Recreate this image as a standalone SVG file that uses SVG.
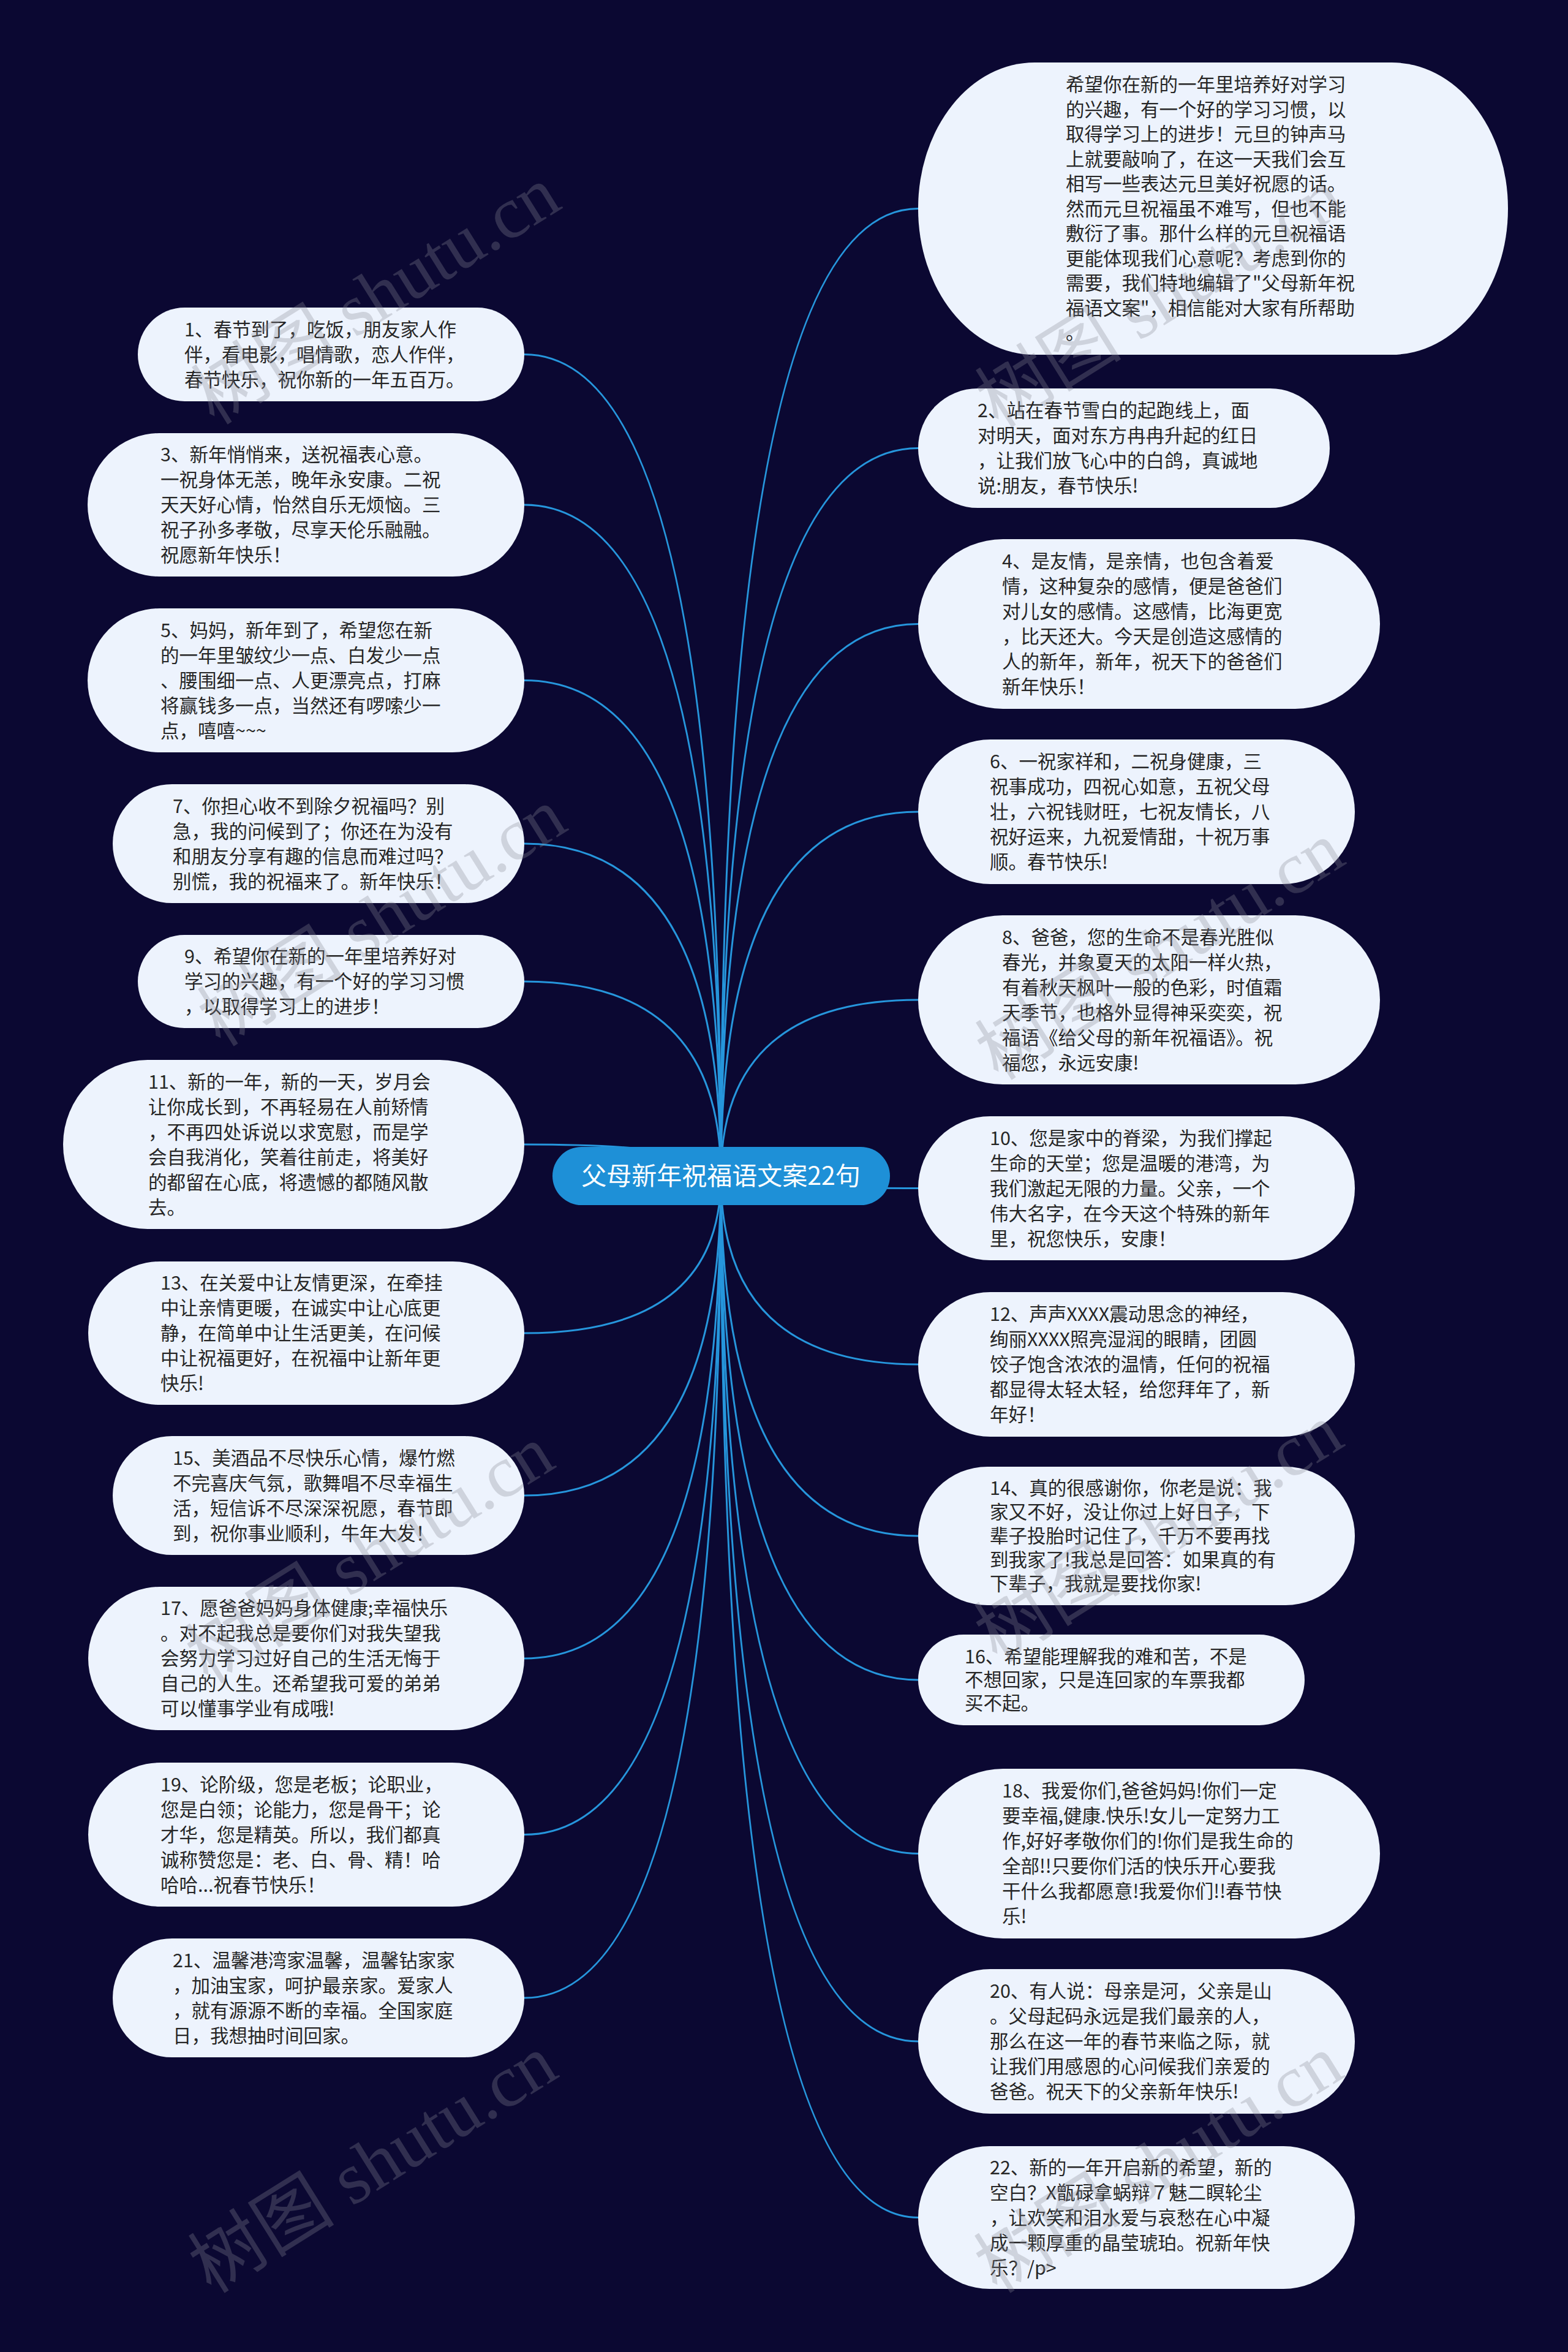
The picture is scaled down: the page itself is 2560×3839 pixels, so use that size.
<svg xmlns="http://www.w3.org/2000/svg" width="2560" height="3839" viewBox="0 0 2560 3839">
<style>
.bg{fill:#0b0832}
.node rect{fill:#edf3fd}
.t{font-family:"Noto Sans CJK SC","Noto Sans",sans-serif;font-size:30.5px;fill:#262626}
.root rect{fill:#1e90d7}
.rt{font-family:"Noto Sans CJK SC","Noto Sans",sans-serif;font-size:41px;fill:#ffffff;text-anchor:middle}
.links path{fill:none;stroke:#2696dc;stroke-width:3}
.wm{font-family:"Liberation Serif","Noto Sans CJK SC",serif;font-size:120px;fill:#8a8a96;opacity:0.3}
</style>
<rect class="bg" x="0" y="0" width="2560" height="3839"/>
<g id="connectors" class="links">
<path d="M1177 1920 Q1177 578.5 856 578.5"/>
<path d="M1177 1920 Q1177 824 856 824"/>
<path d="M1177 1920 Q1177 1110.5 856 1110.5"/>
<path d="M1177 1920 Q1177 1377 856 1377"/>
<path d="M1177 1920 Q1177 1602 856 1602"/>
<path d="M1177 1920 Q1177 1868 856 1868"/>
<path d="M1177 1920 Q1177 2176 856 2176"/>
<path d="M1177 1920 Q1177 2441 856 2441"/>
<path d="M1177 1920 Q1177 2707 856 2707"/>
<path d="M1177 1920 Q1177 2994.5 856 2994.5"/>
<path d="M1177 1920 Q1177 3261 856 3261"/>
<path d="M1177 1920 Q1177 340.5 1499 340.5"/>
<path d="M1177 1920 Q1177 731.5 1499 731.5"/>
<path d="M1177 1920 Q1177 1018.5 1499 1018.5"/>
<path d="M1177 1920 Q1177 1325 1499 1325"/>
<path d="M1177 1920 Q1177 1632 1499 1632"/>
<path d="M1177 1920 Q1177 1939.5 1499 1939.5"/>
<path d="M1177 1920 Q1177 2227 1499 2227"/>
<path d="M1177 1920 Q1177 2507 1499 2507"/>
<path d="M1177 1920 Q1177 2742 1499 2742"/>
<path d="M1177 1920 Q1177 3025.5 1499 3025.5"/>
<path d="M1177 1920 Q1177 3332 1499 3332"/>
<path d="M1177 1920 Q1177 3619.5 1499 3619.5"/>
</g>
<g id="root" class="root">
<rect x="902" y="1872" width="551" height="95" rx="47.5"/>
<text class="rt" x="1177" y="1934">父母新年祝福语文案22句</text>
</g>
<g id="node-1" class="node">
<rect x="225" y="502" width="631" height="153" rx="76.5"/>
<text class="t"><tspan x="301" y="548.5">1、春节到了，吃饭，朋友家人作</tspan><tspan x="301" y="589.5">伴，看电影，唱情歌，恋人作伴，</tspan><tspan x="301" y="630.5">春节快乐，祝你新的一年五百万。</tspan></text>
</g>
<g id="node-3" class="node">
<rect x="143" y="707" width="713" height="234" rx="117"/>
<text class="t"><tspan x="262" y="753">3、新年悄悄来，送祝福表心意。</tspan><tspan x="262" y="794">一祝身体无恙，晚年永安康。二祝</tspan><tspan x="262" y="835">天天好心情，怡然自乐无烦恼。三</tspan><tspan x="262" y="876">祝子孙多孝敬，尽享天伦乐融融。</tspan><tspan x="262" y="917">祝愿新年快乐！</tspan></text>
</g>
<g id="node-5" class="node">
<rect x="143" y="993" width="713" height="235" rx="117.5"/>
<text class="t"><tspan x="262" y="1039.5">5、妈妈，新年到了，希望您在新</tspan><tspan x="262" y="1080.5">的一年里皱纹少一点、白发少一点</tspan><tspan x="262" y="1121.5">、腰围细一点、人更漂亮点，打麻</tspan><tspan x="262" y="1162.5">将赢钱多一点，当然还有啰嗦少一</tspan><tspan x="262" y="1203.5">点，嘻嘻~~~</tspan></text>
</g>
<g id="node-7" class="node">
<rect x="184" y="1280" width="672" height="194" rx="97"/>
<text class="t"><tspan x="282" y="1326.5">7、你担心收不到除夕祝福吗？别</tspan><tspan x="282" y="1367.5">急，我的问候到了；你还在为没有</tspan><tspan x="282" y="1408.5">和朋友分享有趣的信息而难过吗？</tspan><tspan x="282" y="1449.5">别慌，我的祝福来了。新年快乐！</tspan></text>
</g>
<g id="node-9" class="node">
<rect x="225" y="1526" width="631" height="152" rx="76"/>
<text class="t"><tspan x="301" y="1572">9、希望你在新的一年里培养好对</tspan><tspan x="301" y="1613">学习的兴趣，有一个好的学习习惯</tspan><tspan x="301" y="1654">，以取得学习上的进步！</tspan></text>
</g>
<g id="node-11" class="node">
<rect x="103" y="1730" width="753" height="276" rx="138"/>
<text class="t"><tspan x="242" y="1776.5">11、新的一年，新的一天，岁月会</tspan><tspan x="242" y="1817.5">让你成长到，不再轻易在人前矫情</tspan><tspan x="242" y="1858.5">，不再四处诉说以求宽慰，而是学</tspan><tspan x="242" y="1899.5">会自我消化，笑着往前走，将美好</tspan><tspan x="242" y="1940.5">的都留在心底，将遗憾的都随风散</tspan><tspan x="242" y="1981.5">去。</tspan></text>
</g>
<g id="node-13" class="node">
<rect x="144" y="2059" width="712" height="234" rx="117"/>
<text class="t"><tspan x="262" y="2105">13、在关爱中让友情更深，在牵挂</tspan><tspan x="262" y="2146">中让亲情更暖，在诚实中让心底更</tspan><tspan x="262" y="2187">静，在简单中让生活更美，在问候</tspan><tspan x="262" y="2228">中让祝福更好，在祝福中让新年更</tspan><tspan x="262" y="2269">快乐!</tspan></text>
</g>
<g id="node-15" class="node">
<rect x="184" y="2344" width="672" height="194" rx="97"/>
<text class="t"><tspan x="282" y="2390.5">15、美酒品不尽快乐心情，爆竹燃</tspan><tspan x="282" y="2431.5">不完喜庆气氛，歌舞唱不尽幸福生</tspan><tspan x="282" y="2472.5">活，短信诉不尽深深祝愿，春节即</tspan><tspan x="282" y="2513.5">到，祝你事业顺利，牛年大发！</tspan></text>
</g>
<g id="node-17" class="node">
<rect x="144" y="2590" width="712" height="234" rx="117"/>
<text class="t"><tspan x="262" y="2636">17、愿爸爸妈妈身体健康;幸福快乐</tspan><tspan x="262" y="2677">。对不起我总是要你们对我失望我</tspan><tspan x="262" y="2718">会努力学习过好自己的生活无悔于</tspan><tspan x="262" y="2759">自己的人生。还希望我可爱的弟弟</tspan><tspan x="262" y="2800">可以懂事学业有成哦!</tspan></text>
</g>
<g id="node-19" class="node">
<rect x="144" y="2877" width="712" height="235" rx="117.5"/>
<text class="t"><tspan x="262" y="2923.5">19、论阶级，您是老板；论职业，</tspan><tspan x="262" y="2964.5">您是白领；论能力，您是骨干；论</tspan><tspan x="262" y="3005.5">才华，您是精英。所以，我们都真</tspan><tspan x="262" y="3046.5">诚称赞您是：老、白、骨、精！哈</tspan><tspan x="262" y="3087.5">哈哈...祝春节快乐！</tspan></text>
</g>
<g id="node-21" class="node">
<rect x="184" y="3164" width="672" height="194" rx="97"/>
<text class="t"><tspan x="282" y="3210.5">21、温馨港湾家温馨，温馨钻家家</tspan><tspan x="282" y="3251.5">，加油宝家，呵护最亲家。爱家人</tspan><tspan x="282" y="3292.5">，就有源源不断的幸福。全国家庭</tspan><tspan x="282" y="3333.5">日，我想抽时间回家。</tspan></text>
</g>
<g id="node-intro" class="node">
<rect x="1499" y="102" width="963" height="477" rx="190" ry="238"/>
<text class="t"><tspan x="1740" y="149">希望你在新的一年里培养好对学习</tspan><tspan x="1740" y="189.5">的兴趣，有一个好的学习习惯，以</tspan><tspan x="1740" y="230">取得学习上的进步！元旦的钟声马</tspan><tspan x="1740" y="270.5">上就要敲响了，在这一天我们会互</tspan><tspan x="1740" y="311">相写一些表达元旦美好祝愿的话。</tspan><tspan x="1740" y="351.5">然而元旦祝福虽不难写，但也不能</tspan><tspan x="1740" y="392">敷衍了事。那什么样的元旦祝福语</tspan><tspan x="1740" y="432.5">更能体现我们心意呢？考虑到你的</tspan><tspan x="1740" y="473">需要，我们特地编辑了"父母新年祝</tspan><tspan x="1740" y="513.5">福语文案"，相信能对大家有所帮助</tspan><tspan x="1740" y="554">。</tspan></text>
</g>
<g id="node-2" class="node">
<rect x="1499" y="634" width="672" height="195" rx="97.5"/>
<text class="t"><tspan x="1596" y="681">2、站在春节雪白的起跑线上，面</tspan><tspan x="1596" y="722">对明天，面对东方冉冉升起的红日</tspan><tspan x="1596" y="763">，让我们放飞心中的白鸽，真诚地</tspan><tspan x="1596" y="804">说:朋友，春节快乐!</tspan></text>
</g>
<g id="node-4" class="node">
<rect x="1499" y="880" width="754" height="277" rx="138.5"/>
<text class="t"><tspan x="1636" y="927">4、是友情，是亲情，也包含着爱</tspan><tspan x="1636" y="968">情，这种复杂的感情，便是爸爸们</tspan><tspan x="1636" y="1009">对儿女的感情。这感情，比海更宽</tspan><tspan x="1636" y="1050">，比天还大。今天是创造这感情的</tspan><tspan x="1636" y="1091">人的新年，新年，祝天下的爸爸们</tspan><tspan x="1636" y="1132">新年快乐！</tspan></text>
</g>
<g id="node-6" class="node">
<rect x="1499" y="1207" width="713" height="236" rx="118"/>
<text class="t"><tspan x="1616" y="1254">6、一祝家祥和，二祝身健康，三</tspan><tspan x="1616" y="1295">祝事成功，四祝心如意，五祝父母</tspan><tspan x="1616" y="1336">壮，六祝钱财旺，七祝友情长，八</tspan><tspan x="1616" y="1377">祝好运来，九祝爱情甜，十祝万事</tspan><tspan x="1616" y="1418">顺。春节快乐!</tspan></text>
</g>
<g id="node-8" class="node">
<rect x="1499" y="1494" width="754" height="276" rx="138"/>
<text class="t"><tspan x="1636" y="1540.5">8、爸爸，您的生命不是春光胜似</tspan><tspan x="1636" y="1581.5">春光，并象夏天的太阳一样火热，</tspan><tspan x="1636" y="1622.5">有着秋天枫叶一般的色彩，时值霜</tspan><tspan x="1636" y="1663.5">天季节，也格外显得神采奕奕，祝</tspan><tspan x="1636" y="1704.5">福语《给父母的新年祝福语》。祝</tspan><tspan x="1636" y="1745.5">福您，永远安康!</tspan></text>
</g>
<g id="node-10" class="node">
<rect x="1499" y="1822" width="713" height="235" rx="117.5"/>
<text class="t"><tspan x="1616" y="1868.5">10、您是家中的脊梁，为我们撑起</tspan><tspan x="1616" y="1909.5">生命的天堂；您是温暖的港湾，为</tspan><tspan x="1616" y="1950.5">我们激起无限的力量。父亲，一个</tspan><tspan x="1616" y="1991.5">伟大名字，在今天这个特殊的新年</tspan><tspan x="1616" y="2032.5">里，祝您快乐，安康！</tspan></text>
</g>
<g id="node-12" class="node">
<rect x="1499" y="2109" width="713" height="236" rx="118"/>
<text class="t"><tspan x="1616" y="2156">12、声声XXXX震动思念的神经，</tspan><tspan x="1616" y="2197">绚丽XXXX照亮湿润的眼睛，团圆</tspan><tspan x="1616" y="2238">饺子饱含浓浓的温情，任何的祝福</tspan><tspan x="1616" y="2279">都显得太轻太轻，给您拜年了，新</tspan><tspan x="1616" y="2320">年好！</tspan></text>
</g>
<g id="node-14" class="node">
<rect x="1499" y="2394" width="713" height="226" rx="113"/>
<text class="t"><tspan x="1616" y="2440">14、真的很感谢你，你老是说：我</tspan><tspan x="1616" y="2479">家又不好，没让你过上好日子，下</tspan><tspan x="1616" y="2518">辈子投胎时记住了，千万不要再找</tspan><tspan x="1616" y="2557">到我家了!我总是回答：如果真的有</tspan><tspan x="1616" y="2596">下辈子，我就是要找你家!</tspan></text>
</g>
<g id="node-16" class="node">
<rect x="1499" y="2668" width="631" height="148" rx="74"/>
<text class="t"><tspan x="1575" y="2715">16、希望能理解我的难和苦，不是</tspan><tspan x="1575" y="2753">不想回家，只是连回家的车票我都</tspan><tspan x="1575" y="2791">买不起。</tspan></text>
</g>
<g id="node-18" class="node">
<rect x="1499" y="2887" width="754" height="277" rx="138.5"/>
<text class="t"><tspan x="1636" y="2934">18、我爱你们,爸爸妈妈!你们一定</tspan><tspan x="1636" y="2975">要幸福,健康.快乐!女儿一定努力工</tspan><tspan x="1636" y="3016">作,好好孝敬你们的!你们是我生命的</tspan><tspan x="1636" y="3057">全部!!只要你们活的快乐开心要我</tspan><tspan x="1636" y="3098">干什么我都愿意!我爱你们!!春节快</tspan><tspan x="1636" y="3139">乐!</tspan></text>
</g>
<g id="node-20" class="node">
<rect x="1499" y="3214" width="713" height="236" rx="118"/>
<text class="t"><tspan x="1616" y="3261">20、有人说：母亲是河，父亲是山</tspan><tspan x="1616" y="3302">。父母起码永远是我们最亲的人，</tspan><tspan x="1616" y="3343">那么在这一年的春节来临之际，就</tspan><tspan x="1616" y="3384">让我们用感恩的心问候我们亲爱的</tspan><tspan x="1616" y="3425">爸爸。祝天下的父亲新年快乐!</tspan></text>
</g>
<g id="node-22" class="node">
<rect x="1499" y="3503" width="713" height="233" rx="116.5"/>
<text class="t"><tspan x="1616" y="3548.5">22、新的一年开启新的希望，新的</tspan><tspan x="1616" y="3589.5">空白？X甑碌拿蜗辩７魅二瞑轮尘</tspan><tspan x="1616" y="3630.5">，让欢笑和泪水爱与哀愁在心中凝</tspan><tspan x="1616" y="3671.5">成一颗厚重的晶莹琥珀。祝新年快</tspan><tspan x="1616" y="3712.5">乐？/p&gt;</tspan></text>
</g>
<g id="watermarks">
<text class="wm" transform="translate(350 695) rotate(-32)">树图 shutu.cn</text>
<text class="wm" transform="translate(1630 700) rotate(-32)">树图 shutu.cn</text>
<text class="wm" transform="translate(360 1710) rotate(-32)">树图 shutu.cn</text>
<text class="wm" transform="translate(1630 1765) rotate(-32)">树图 shutu.cn</text>
<text class="wm" transform="translate(340 2750) rotate(-32)">树图 shutu.cn</text>
<text class="wm" transform="translate(1628 2715) rotate(-32)">树图 shutu.cn</text>
<text class="wm" transform="translate(345 3745) rotate(-32)">树图 shutu.cn</text>
<text class="wm" transform="translate(1628 3745) rotate(-32)">树图 shutu.cn</text>
</g>
</svg>
